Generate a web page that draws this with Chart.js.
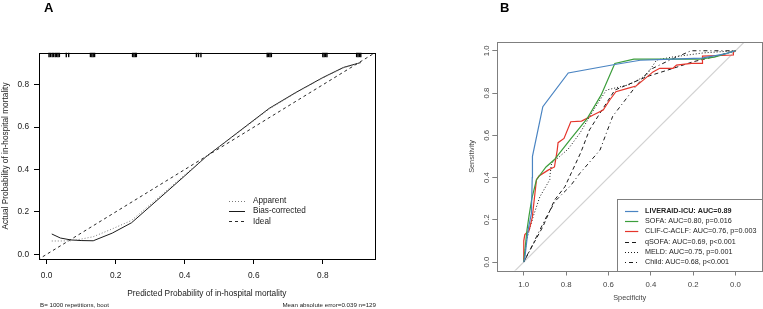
<!DOCTYPE html>
<html>
<head>
<meta charset="utf-8">
<script src="https://cdn.jsdelivr.net/npm/chart.js@4.4.1/dist/chart.umd.min.js"></script>
<style>
  html, body { margin: 0; padding: 0; background: #fff; }
  #wrap { position: relative; width: 763px; height: 309px; overflow: hidden; }
  #panelA { position: absolute; left: 0; top: 0; }
  #panelB { position: absolute; left: 380px; top: 0; }
</style>
</head>
<body>
<div id="wrap">
  <canvas id="panelA" width="380" height="309"></canvas>
  <canvas id="panelB" width="383" height="309"></canvas>
</div>
<script>
const FONT = '"Liberation Sans", Arial, Helvetica, sans-serif';
Chart.defaults.font.family = FONT;

// ---- panel A: calibration curve ----
const calX             = [0.015, 0.04, 0.07, 0.1, 0.135, 0.19, 0.246, 0.32, 0.4, 0.462, 0.52, 0.58, 0.645, 0.72, 0.8, 0.86, 0.91];
const calApparent      = [0.063, 0.063, 0.064, 0.072, 0.083, 0.12, 0.16, 0.262, 0.375, 0.461, 0.532, 0.605, 0.686, 0.76, 0.832, 0.88, 0.905];
const calBiasCorrected = [0.096, 0.077, 0.068, 0.065, 0.064, 0.1, 0.149, 0.255, 0.37, 0.461, 0.533, 0.608, 0.689, 0.762, 0.834, 0.882, 0.905];
const idealX = [-0.1, 1.0];
const rugPredictions = [0.007, 0.011, 0.016, 0.02, 0.025, 0.029, 0.033, 0.037, 0.057, 0.064,
  0.127, 0.131, 0.135, 0.139, 0.249, 0.253, 0.257, 0.26, 0.434, 0.44, 0.447,
  0.639, 0.643, 0.647, 0.651, 0.8, 0.804, 0.808, 0.812, 0.898, 0.902, 0.906, 0.91];
const calTicks = [0, 0.2, 0.4, 0.6, 0.8];
const calLabels = ['Apparent', 'Bias-corrected', 'Ideal'];

// ---- panel B: ROC curves ----
const rocLabels = ['LIVERAID-ICU: AUC=0.89', 'SOFA: AUC=0.80, p=0.016', 'CLIF-C-ACLF: AUC=0.76, p=0.003',
  'qSOFA: AUC=0.69, p<0.001', 'MELD: AUC=0.75, p=0.001', 'Child: AUC=0.68, p<0.001'];
const liveraidSpec = [1.0, 0.995, 0.98, 0.964, 0.96, 0.959, 0.91, 0.79, 0.57, 0.45, 0.3, 0.16, 0.05, 0.0];
const liveraidSens = [0.0, 0.02, 0.15, 0.23, 0.4, 0.5, 0.735, 0.895, 0.935, 0.955, 0.96, 0.965, 0.985, 1.0];
const sofaSpec = [1.0, 0.99, 0.985, 0.975, 0.962, 0.94, 0.895, 0.855, 0.82, 0.78, 0.7, 0.635, 0.57, 0.48, 0.17, 0.1, 0.0];
const sofaSens = [0.0, 0.1, 0.15, 0.22, 0.3, 0.39, 0.45, 0.485, 0.53, 0.58, 0.68, 0.79, 0.94, 0.96, 0.96, 0.97, 1.0];
const clifSpec = [1.0, 1.0, 0.995, 0.975, 0.96, 0.95, 0.94, 0.928, 0.885, 0.855, 0.842, 0.838, 0.81, 0.778, 0.727, 0.672,
  0.625, 0.594, 0.565, 0.51, 0.47, 0.436, 0.39, 0.358, 0.295, 0.279, 0.208, 0.158, 0.156, 0.01, 0.01, 0.0];
const clifSens = [0.0, 0.1, 0.13, 0.15, 0.21, 0.3, 0.39, 0.407, 0.435, 0.45, 0.53, 0.565, 0.585, 0.664, 0.667, 0.696,
  0.719, 0.767, 0.806, 0.822, 0.833, 0.861, 0.9, 0.917, 0.917, 0.932, 0.94, 0.94, 0.975, 0.98, 0.995, 1.0];
const qsofaSpec = [1.0, 0.98, 0.91, 0.855, 0.806, 0.73, 0.69, 0.64, 0.57, 0.46, 0.42, 0.3, 0.2, 0.1, 0.0];
const qsofaSens = [0.0, 0.04, 0.167, 0.293, 0.356, 0.52, 0.625, 0.705, 0.814, 0.86, 0.877, 0.915, 0.948, 0.972, 1.0];
const meldSpec = [1.0, 0.987, 0.956, 0.924, 0.877, 0.877, 0.869, 0.814, 0.79, 0.735, 0.67, 0.61, 0.5, 0.42, 0.373, 0.3, 0.15, 0.0];
const meldSens = [0.0, 0.104, 0.214, 0.309, 0.39, 0.404, 0.467, 0.514, 0.535, 0.61, 0.72, 0.814, 0.84, 0.885, 0.956, 0.97, 0.99, 1.0];
const childSpec = [1.0, 0.97, 0.94, 0.893, 0.85, 0.78, 0.735, 0.64, 0.58, 0.48, 0.405, 0.31, 0.21, 0.0];
const childSens = [0.0, 0.057, 0.12, 0.214, 0.29, 0.36, 0.42, 0.53, 0.69, 0.82, 0.91, 0.956, 1.0, 1.0];
const chanceSpec = [1.2, -0.2];
const chanceSens = [-0.2, 1.2];
const rocTicks = [0, 0.2, 0.4, 0.6, 0.8, 1.0];

const pts = (xs, ys) => xs.map((x, i) => ({ x: x, y: ys[i] }));
const useTicks = list => scale => { scale.ticks = list.map(v => ({ value: v })); };
const fmt = v => Number(v).toFixed(1);

// box around the plot region
const frame = {
  id: 'frame',
  afterDatasetsDraw(chart, args, opts) {
    const { ctx, chartArea: a } = chart;
    ctx.save();
    ctx.strokeStyle = opts.color;
    ctx.lineWidth = 1;
    ctx.strokeRect(Math.round(a.left) + 0.5, Math.round(a.top) + 0.5,
      Math.round(a.right) - Math.round(a.left), Math.round(a.bottom) - Math.round(a.top));
    ctx.restore();
  }
};

// legend drawn inside the plot, like base R legend()
const keyBox = {
  id: 'keyBox',
  afterDraw(chart, args, o) {
    const ctx = chart.ctx;
    const a = chart.chartArea;
    ctx.save();
    if (o.box) {
      ctx.fillStyle = '#fff';
      ctx.strokeStyle = o.box.color;
      ctx.lineWidth = 1;
      const x0 = Math.round(o.box.x) + 0.5, y0 = Math.round(o.box.y) + 0.5;
      ctx.fillRect(x0, y0, Math.round(a.right) - x0 + 0.5, Math.round(a.bottom) - y0 + 0.5);
      ctx.strokeRect(x0, y0, Math.round(a.right) - x0 + 0.5, Math.round(a.bottom) - y0 + 0.5);
    }
    o.items.forEach((idx, i) => {
      const ds = chart.data.datasets[idx];
      const y = o.y + i * o.rowH;
      ctx.strokeStyle = ds.borderColor;
      ctx.lineWidth = ds.borderWidth;
      ctx.setLineDash(ds.borderDash || []);
      ctx.beginPath();
      ctx.moveTo(o.x, Math.round(y) + 0.5);
      ctx.lineTo(o.x + o.sampleW, Math.round(y) + 0.5);
      ctx.stroke();
      ctx.setLineDash([]);
      ctx.font = (o.boldFirst && i === 0 ? 'bold ' : '') + o.size + 'px ' + FONT;
      ctx.fillStyle = o.color;
      ctx.textBaseline = 'middle';
      ctx.textAlign = 'left';
      ctx.fillText(ds.label, o.x + o.sampleW + o.gap, y);
    });
    ctx.restore();
  }
};

// free text: panel letters and footnotes
const notes = {
  id: 'notes',
  afterDraw(chart, args, o) {
    const ctx = chart.ctx;
    ctx.save();
    o.items.forEach(t => {
      ctx.font = (t.bold ? 'bold ' : '') + t.size + 'px ' + FONT;
      ctx.fillStyle = t.color || '#1a1a1a';
      ctx.textAlign = t.align || 'left';
      ctx.textBaseline = 'alphabetic';
      ctx.fillText(t.text, t.x, t.y);
    });
    ctx.restore();
  }
};

// ---------- A ----------
new Chart(document.getElementById('panelA'), {
  type: 'scatter',
  data: {
    datasets: [
      { label: calLabels[0], data: pts(calX, calApparent), showLine: true, borderColor: '#7a7a7a',
        borderWidth: 1, borderDash: [1, 2], pointRadius: 0 },
      { label: calLabels[1], data: pts(calX, calBiasCorrected), showLine: true, borderColor: '#1a1a1a',
        borderWidth: 1, pointRadius: 0 },
      { label: calLabels[2], data: pts(idealX, idealX), showLine: true, borderColor: '#2a2a2a',
        borderWidth: 1, borderDash: [3, 3], pointRadius: 0 },
      { label: 'rug', data: rugPredictions.map(x => ({ x: x, y: 0.9407 })), pointStyle: 'line',
        pointRotation: 90, pointRadius: 2.2, pointBorderWidth: 1.4, pointBorderColor: '#000', clip: false }
    ]
  },
  options: {
    responsive: false,
    animation: false,
    events: [],
    layout: { padding: { top: 53, right: 4.3, left: 0, bottom: 0 } },
    plugins: {
      legend: { display: false },
      tooltip: { enabled: false },
      frame: { color: '#000' },
      keyBox: { items: [0, 1, 2], x: 229, y: 200.7, rowH: 10.3, sampleW: 16, gap: 8, size: 8.2, color: '#1a1a1a' },
      notes: { items: [
        { text: 'A', x: 44, y: 11.5, size: 13, bold: true, color: '#000' },
        { text: 'B= 1000 repetitions, boot', x: 40, y: 307, size: 6.2 },
        { text: 'Mean absolute error=0.039 n=129', x: 376, y: 307, size: 6.2, align: 'right' }
      ] }
    },
    scales: {
      x: {
        type: 'linear', min: -0.022, max: 0.95,
        afterBuildTicks: useTicks(calTicks),
        afterFit: s => { s.height = 50; },
        grid: { drawOnChartArea: false, tickLength: 5, color: '#000' },
        border: { display: false },
        ticks: { callback: fmt, padding: 7, color: '#1a1a1a', font: { size: 8.3 }, maxRotation: 0, autoSkip: false },
        title: { display: true, text: 'Predicted Probability of in-hospital mortality', color: '#1a1a1a',
          font: { size: 8.3 }, padding: { top: 0, bottom: 10 } }
      },
      y: {
        type: 'linear', min: -0.022, max: 0.95,
        afterBuildTicks: useTicks(calTicks),
        afterFit: s => { s.width = 39; },
        grid: { drawOnChartArea: false, tickLength: 5, color: '#000' },
        border: { display: false },
        ticks: { callback: fmt, padding: 5, color: '#1a1a1a', font: { size: 8.3 }, autoSkip: false },
        title: { display: true, text: 'Actual Probability of in-hospital mortality', color: '#1a1a1a',
          font: { size: 8.3 }, padding: { top: 0.5, bottom: 0 } }
      }
    }
  },
  plugins: [frame, keyBox, notes]
});

// ---------- B ----------
new Chart(document.getElementById('panelB'), {
  type: 'scatter',
  data: {
    datasets: [
      { label: rocLabels[0], data: pts(liveraidSpec, liveraidSens), borderColor: '#4a84c2', borderWidth: 1.2 },
      { label: rocLabels[1], data: pts(sofaSpec, sofaSens), borderColor: '#3c9e3c', borderWidth: 1.2 },
      { label: rocLabels[2], data: pts(clifSpec, clifSens), borderColor: '#e5352b', borderWidth: 1.2 },
      { label: rocLabels[3], data: pts(qsofaSpec, qsofaSens), borderColor: '#1a1a1a', borderWidth: 1, borderDash: [4, 3] },
      { label: rocLabels[4], data: pts(meldSpec, meldSens), borderColor: '#1a1a1a', borderWidth: 1, borderDash: [1, 2] },
      { label: rocLabels[5], data: pts(childSpec, childSens), borderColor: '#1a1a1a', borderWidth: 1, borderDash: [1, 3, 4, 3] },
      { label: 'chance', data: pts(chanceSpec, chanceSens), borderColor: '#d2d2d2', borderWidth: 1.2 }
    ].map(d => Object.assign({ showLine: true, pointRadius: 0 }, d))
  },
  options: {
    responsive: false,
    animation: false,
    events: [],
    layout: { padding: { top: 42.3, right: 1, left: 80, bottom: 0 } },
    plugins: {
      legend: { display: false },
      tooltip: { enabled: false },
      frame: { color: '#7f7f7f' },
      keyBox: { items: [0, 1, 2, 3, 4, 5], x: 245, y: 210.7, rowH: 10.3, sampleW: 13.3, gap: 6.7, size: 7.2,
        color: '#222', boldFirst: true, box: { x: 237.3, y: 199.3, color: '#7f7f7f' } },
      notes: { items: [
        { text: 'B', x: 120, y: 11.5, size: 13, bold: true, color: '#000' }
      ] }
    },
    scales: {
      x: {
        type: 'linear', min: -0.125, max: 1.125, reverse: true,
        afterBuildTicks: useTicks(rocTicks),
        afterFit: s => { s.height = 38.5; },
        grid: { drawOnChartArea: false, tickLength: 5, color: '#7f7f7f' },
        border: { display: false },
        ticks: { callback: fmt, padding: 4.8, color: '#444', font: { size: 7.8 }, maxRotation: 0, autoSkip: false },
        title: { display: true, text: 'Specificity', color: '#444', font: { size: 7.3 }, padding: { top: 0, bottom: 6.6 } }
      },
      y: {
        type: 'linear', min: -0.04, max: 1.04,
        afterBuildTicks: useTicks(rocTicks),
        afterFit: s => { s.width = 37.3; },
        grid: { drawOnChartArea: false, tickLength: 5, color: '#7f7f7f' },
        border: { display: false },
        ticks: { callback: fmt, padding: 0, color: '#444', font: { size: 7.8 }, minRotation: 90, maxRotation: 90,
          crossAlign: 'center', autoSkip: false },
        title: { display: true, text: 'Sensitivity', color: '#444', font: { size: 7.3 }, padding: { top: 7.3, bottom: 0 } }
      }
    }
  },
  plugins: [frame, keyBox, notes]
});
</script>
</body>
</html>
